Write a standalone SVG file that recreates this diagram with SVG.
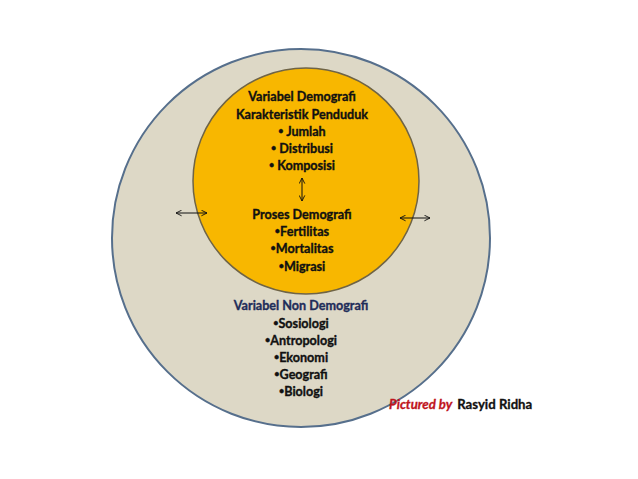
<svg xmlns="http://www.w3.org/2000/svg" width="638" height="479" viewBox="0 0 638 479">
<defs>
<style>
.t{font-family:Lato,"Liberation Sans",sans-serif;font-weight:bold;font-size:12.6px;fill:#111;stroke:#111;stroke-width:0.35;text-anchor:middle}
.nav{fill:#1f2d5a;stroke:#1f2d5a}
.b{font-size:9px}
.ln{stroke:#111;stroke-width:1;fill:none}
</style>
<marker id="ah" viewBox="0 0 10 10" refX="9" refY="5" markerWidth="7" markerHeight="7" orient="auto-start-reverse" markerUnits="userSpaceOnUse">
<path d="M1,1 L9,5 L1,9" fill="none" stroke="#111" stroke-width="1.3"/>
</marker>
</defs>
<rect width="638" height="479" fill="#fff"/>
<g id="outer">
<circle cx="301" cy="238" r="189" fill="#ddd8c6" stroke="#566f8c" stroke-width="2"/>
<text class="t nav" x="301" y="310">Variabel Non Demografi</text>
<text class="t" x="301" y="328"><tspan class="b" dy="-2">•</tspan><tspan dy="2">Sosiologi</tspan></text>
<text class="t" x="301" y="345"><tspan class="b" dy="-2">•</tspan><tspan dy="2">Antropologi</tspan></text>
<text class="t" x="301" y="362"><tspan class="b" dy="-2">•</tspan><tspan dy="2">Ekonomi</tspan></text>
<text class="t" x="301" y="379"><tspan class="b" dy="-2">•</tspan><tspan dy="2">Geografi</tspan></text>
<text class="t" x="301" y="396"><tspan class="b" dy="-2">•</tspan><tspan dy="2">Biologi</tspan></text>
</g>
<g id="inner">
<circle cx="306" cy="181" r="113" fill="#f8b700" stroke="#6f6446" stroke-width="1.5"/>
<text class="t" x="302" y="101">Variabel Demografi</text>
<text class="t" x="302" y="119">Karakteristik Penduduk</text>
<text class="t" x="302" y="136"><tspan class="b" dy="-2">•</tspan><tspan dy="2"> Jumlah</tspan></text>
<text class="t" x="302" y="153"><tspan class="b" dy="-2">•</tspan><tspan dy="2">  Distribusi</tspan></text>
<text class="t" x="302" y="170"><tspan class="b" dy="-2">•</tspan><tspan dy="2"> Komposisi</tspan></text>
<text class="t" x="302" y="219">Proses Demografi</text>
<text class="t" x="302" y="236"><tspan class="b" dy="-2">•</tspan><tspan dy="2">Fertilitas</tspan></text>
<text class="t" x="302" y="253"><tspan class="b" dy="-2">•</tspan><tspan dy="2">Mortalitas</tspan></text>
<text class="t" x="302" y="271"><tspan class="b" dy="-2">•</tspan><tspan dy="2">Migrasi</tspan></text>
</g>
<g id="connectors">
<line class="ln" x1="302" y1="178" x2="302" y2="201" marker-start="url(#ah)" marker-end="url(#ah)"/>
<line class="ln" x1="176" y1="213" x2="207" y2="213" marker-start="url(#ah)" marker-end="url(#ah)"/>
<line class="ln" x1="400" y1="218" x2="430" y2="218" marker-start="url(#ah)" marker-end="url(#ah)"/>
</g>
<g id="credit">
<text x="389" y="409" style="font-family:Lato,'Liberation Sans',sans-serif;font-weight:bold;font-size:13.2px;stroke-width:0.3"><tspan fill="#c0141c" stroke="#c0141c" font-style="italic">Pictured by</tspan><tspan fill="#111" stroke="#111" dx="5">Rasyid  Ridha</tspan></text>
</g>
</svg>
